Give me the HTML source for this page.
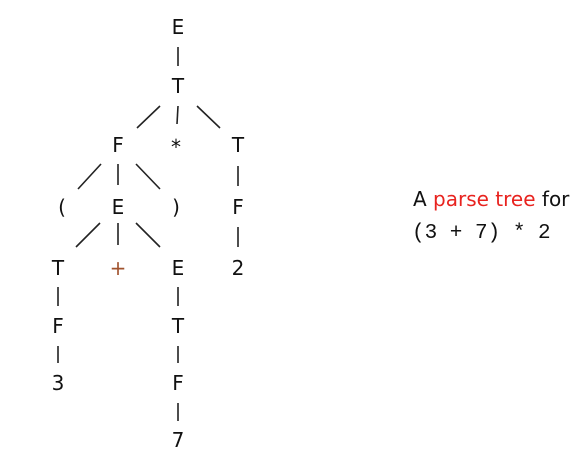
<!DOCTYPE html>
<html><head><meta charset="utf-8"><style>
html,body{margin:0;padding:0;background:#fff;width:586px;height:455px;overflow:hidden}
svg{display:block}
text{font-family:"DejaVu Sans","Liberation Sans",sans-serif;font-size:20px;fill:#111}
line{stroke:#222;stroke-width:1.6}
</style></head><body>
<svg width="586" height="455">
<g text-anchor="middle">
<text x="178" y="34">E</text>
<text x="178" y="93">T</text>
<text x="118" y="152">F</text>
<text x="176" y="154">*</text>
<text x="238" y="152">T</text>
<text x="62" y="214">(</text>
<text x="118" y="214">E</text>
<text x="176" y="214">)</text>
<text x="238" y="214">F</text>
<text x="58" y="275">T</text>
<text x="118" y="275" style="fill:#a0522d">+</text>
<text x="178" y="275">E</text>
<text x="238" y="275">2</text>
<text x="58" y="333">F</text>
<text x="178" y="333">T</text>
<text x="58" y="390">3</text>
<text x="178" y="390">F</text>
<text x="178" y="447">7</text>
</g>
<g>
<line x1="178" y1="47" x2="178" y2="66"/>
<line x1="160" y1="106" x2="137" y2="128"/>
<line x1="178" y1="106" x2="177" y2="124"/>
<line x1="197" y1="106" x2="220" y2="128"/>
<line x1="101" y1="164" x2="78" y2="189"/>
<line x1="118" y1="164" x2="118" y2="185"/>
<line x1="136" y1="164" x2="160" y2="189"/>
<line x1="238" y1="166" x2="238" y2="186"/>
<line x1="100" y1="223" x2="76" y2="247"/>
<line x1="118" y1="223" x2="118" y2="245"/>
<line x1="136" y1="223" x2="160" y2="247"/>
<line x1="238" y1="227" x2="238" y2="247"/>
<line x1="58" y1="287" x2="58" y2="306"/>
<line x1="178" y1="287" x2="178" y2="306"/>
<line x1="58" y1="346" x2="58" y2="363"/>
<line x1="178" y1="346" x2="178" y2="363"/>
<line x1="178" y1="403" x2="178" y2="421"/>
</g>
<text x="413" y="206">A <tspan style="fill:#e8231f">parse tree</tspan> for</text>
<text x="412" y="238" style="font-family:'Liberation Mono','DejaVu Sans Mono',monospace;font-size:21px" xml:space="preserve">(3 + 7) * 2</text>
</svg>
</body></html>
